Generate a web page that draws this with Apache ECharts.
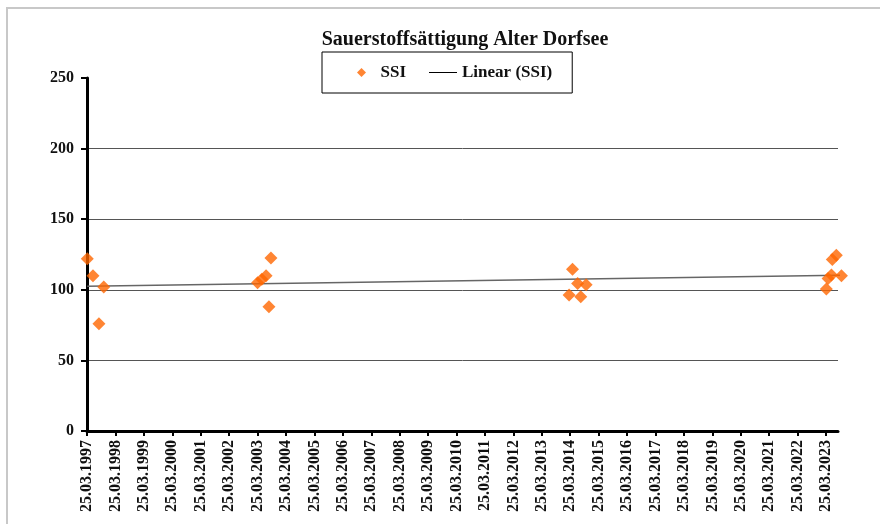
<!DOCTYPE html>
<html>
  <head>
    <meta charset="utf-8">
    <script src="https://cdn.jsdelivr.net/npm/echarts@6/dist/echarts.min.js"></script>
    <style>
      html, body { margin: 0; padding: 0; background: #fff; }
      #chart { width: 880px; height: 524px; }
    </style>
  </head>
  <body>
    <div id="chart"></div>
    <script>
      // Messzeitpunkte als Jahre ab 25.03. (1997.0 = 25.03.1997)
      const sampleTimes = [
        1997.01, 1997.21, 1997.42, 1997.59,
        2003.00, 2003.15, 2003.30, 2003.40, 2003.47,
        2013.96, 2014.08, 2014.26, 2014.37, 2014.56,
        2023.01, 2023.07, 2023.19, 2023.22, 2023.36, 2023.54
      ];
      // Sauerstoffsättigung in %
      const ssiValues = [
        122, 110, 76, 102,
        105, 107.5, 110, 88, 122.5,
        96.3, 114.5, 104.5, 95, 103.5,
        100.5, 108, 110.5, 121.5, 124.5, 110
      ];
      const tickYears = [];
      for (let y = 1997; y <= 2023; y++) tickYears.push(y);
      const yTicks = [0, 50, 100, 150, 200, 250];

      const points = sampleTimes.map((t, i) => [t, ssiValues[i]]);

      // lineare Trendlinie (kleinste Quadrate)
      const n = points.length;
      const mx = sampleTimes.reduce((a, b) => a + b, 0) / n;
      const my = ssiValues.reduce((a, b) => a + b, 0) / n;
      let sxy = 0, sxx = 0;
      points.forEach(([x, y]) => { sxy += (x - mx) * (y - my); sxx += (x - mx) * (x - mx); });
      const slope = sxy / sxx;
      const x0 = Math.min(...sampleTimes), x1 = Math.max(...sampleTimes);
      const trend = [[x0, my + slope * (x0 - mx)], [x1, my + slope * (x1 - mx)]];

      const serif = '"Liberation Serif", "DejaVu Serif", serif';

      const chart = echarts.init(document.getElementById('chart'), null, { renderer: 'canvas' });
      chart.setOption({
        animation: false,
        graphic: [{
          type: 'rect',
          shape: { x: 7, y: 8, width: 900, height: 540 },
          style: { fill: 'none', stroke: '#c8c8c8', lineWidth: 2 },
          silent: true
        }],
        title: {
          text: 'Sauerstoffsättigung Alter Dorfsee',
          left: 460,
          textAlign: 'center',
          top: 25,
          textStyle: { fontFamily: serif, fontWeight: 'bold', fontSize: 20, color: '#111' }
        },
        legend: {
          left: 322,
          top: 52,
          padding: [12, 20, 12, 35],
          borderColor: '#000',
          borderWidth: 1,
          itemGap: 23,
          itemWidth: 28,
          itemHeight: 9,
          symbolKeepAspect: true,
          textStyle: { fontFamily: serif, fontWeight: 'bold', fontSize: 17, color: '#111' },
          data: [
            { name: 'SSI', icon: 'path://M0,-1L1,0L0,1L-1,0Z', itemStyle: { color: '#ff6600' } },
            { name: 'Linear (SSI)', icon: 'path://M0,0L28,0L28,1L0,1Z', itemStyle: { color: '#000' } }
          ]
        },
        grid: { left: 87, right: 42, top: 78, bottom: 93, containLabel: false },
        xAxis: {
          type: 'value',
          min: 1997,
          max: 2023.42,
          axisLine: { show: true, lineStyle: { color: '#000', width: 3 } },
          axisTick: { show: true, customValues: tickYears, length: 5, lineStyle: { color: '#000', width: 2 } },
          axisLabel: {
            customValues: tickYears,
            rotate: 90,
            margin: 9,
            fontFamily: serif,
            fontWeight: 'bold',
            fontSize: 16,
            color: '#111',
            formatter: v => '25.03.' + v
          },
          splitLine: { show: false }
        },
        yAxis: {
          type: 'value',
          min: yTicks[0],
          max: yTicks[yTicks.length - 1],
          interval: 50,
          axisLine: { show: true, lineStyle: { color: '#000', width: 3 } },
          axisTick: { show: true, inside: false, length: 6, lineStyle: { color: '#000', width: 2 } },
          axisLabel: { margin: 13, fontFamily: serif, fontWeight: 'bold', fontSize: 16, color: '#111' },
          splitLine: { show: true, showMinLine: false, showMaxLine: false, lineStyle: { color: '#555', width: 1 } }
        },
        series: [{
          name: 'SSI',
          type: 'scatter',
          symbol: 'diamond',
          symbolSize: 13,
          clip: false,
          itemStyle: { color: '#ff6600' },
          data: points,
          z: 3
        }, {
          name: 'Linear (SSI)',
          type: 'line',
          symbol: 'none',
          clip: false,
          lineStyle: { color: '#666', width: 1.5 },
          itemStyle: { color: '#000' },
          data: trend,
          z: 2
        }]
      });
    </script>
  </body>
</html>
